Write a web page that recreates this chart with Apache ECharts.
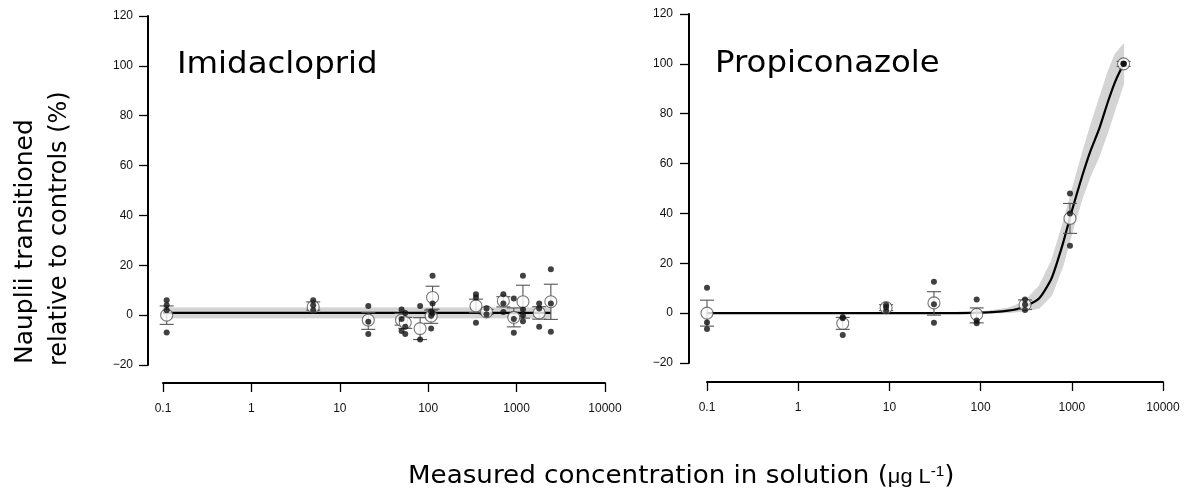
<!DOCTYPE html>
<html><head><meta charset="utf-8">
<script src="https://cdn.jsdelivr.net/npm/echarts@6/dist/echarts.min.js"></script>
<style>html,body{margin:0;padding:0;background:#fff}#c{width:1187px;height:495px}</style>
</head><body><div id="c"></div>
<script>
// ---------- tick labels ----------
const xTicks = [0.1, 1, 10, 100, 1000, 10000];
const xTickLabels = ['0.1', '1', '10', '100', '1000', '10000'];
const yTicks = [-20, 0, 20, 40, 60, 80, 100, 120];

// ---------- Imidacloprid (left) ----------
const imiConc = [0.11, 5.0, 21, 50, 55, 81, 112, 108, 347, 457, 708, 930, 1180, 1800, 2440];
const imiMean = [0, 3.3, -2, -2, -3, -5.4, 7.1, -0.4, 3.7, 1.3, 5.7, -0.9, 5.4, 0.9, 5.4];
const imiErrLow = [-3.7, 2, -5.7, -4, -5.3, -9.8, 2.4, -3.3, 1, 0.3, 3.3, -4.7, -1.2, -1.6, -1.7];
const imiErrHigh = [3.7, 5.3, 1, 0.7, -0.9, -1, 11.6, 2, 6.4, 2.3, 7.4, 2.9, 12, 3.4, 12.4];
const imiReps = [[6, 4, 2, -7], [6, 4, 2], [3.7, -2.7, -7.6], [2.3, -1.5, -6.4], [0.9, -4.7, -7.6],
  [3.7, -9.8], [15.8, 4.7, 0.8], [1.5, -0.2, -5.4], [8.4, 7.1, -3.1], [2.7, 0.3], [8.4, 4.7, 1.3],
  [6.7, -1.5, -7.1], [15.8, 2.3, 0, -2.4], [4.7, 2.7, -4.7], [18.4, 4.7, -6.7]];
const imiFitConc = [0.1, 2440];
const imiFitVal = [0.9, 0.9];
const imiBandLow = [-1.1, -1.1];
const imiBandHigh = [2.9, 2.9];

// ---------- Propiconazole (right) ----------
const proConc = [0.1, 3.08, 9.2, 30.8, 90.6, 307, 955, 3700];
const proMean = [0, -4.1, 2.2, 4.1, -0.5, 3.4, 38, 100];
const proErrLow = [-5.2, -6.5, 1, -0.8, -3.9, 1.5, 32, 99];
const proErrHigh = [5.2, -1.7, 3.4, 8.6, 2.1, 5.3, 44, 101];
const proReps = [[10.2, -3.8, -6.4], [-1.5, -2, -8.8], [3.3, 2.4, 0.9], [12.6, 3.6, -3.9],
  [5.5, -3, -4.1], [5.5, 3.5, 1.3], [48, 40, 27], [100, 100, 100]];
const proFitConc = [0.1, 30, 100, 200, 300, 440, 600, 800, 1000, 1300, 1600, 2000, 2500, 3000, 3700];
const proFitVal = [0, 0, 0.2, 1, 2.5, 6, 14, 28, 41, 55, 65, 74, 85, 93, 100];
const proBandLow = [0, 0, 0, 0.2, 0.8, 2, 7, 19, 32, 46, 55, 63, 73, 82, 92];
const proBandHigh = [0, 0, 0.4, 2, 4.5, 11, 21, 36, 49, 64, 75, 86, 97, 104, 108];

// ---------- helpers ----------
function pairs(xs, ys) { return xs.map((x, i) => [x, ys[i]]); }
function repPairs(conc, reps) { const out = []; conc.forEach((c, i) => reps[i].forEach(v => out.push([c, v]))); return out; }
function bandSeries(idx, conc, lo, hi) {
  return {
    type: 'custom', xAxisIndex: idx, yAxisIndex: idx, z: 1, silent: true,
    data: [[conc[0], lo[0]]],
    renderItem: function (params, api) {
      const pts = [];
      for (let i = 0; i < conc.length; i++) pts.push(api.coord([conc[i], hi[i]]));
      for (let i = conc.length - 1; i >= 0; i--) pts.push(api.coord([conc[i], lo[i]]));
      return { type: 'polygon', shape: { points: pts }, style: { fill: '#d4d4d4', stroke: '#d4d4d4', lineWidth: 1 } };
    }
  };
}
function errSeries(idx, conc, lo, hi) {
  return {
    type: 'custom', xAxisIndex: idx, yAxisIndex: idx, z: 3, silent: true,
    data: conc.map((c, i) => [c, lo[i], hi[i]]),
    encode: { x: 0, y: [1, 2] },
    renderItem: function (params, api) {
      const x = api.value(0);
      const p1 = api.coord([x, api.value(1)]), p2 = api.coord([x, api.value(2)]);
      const w = 7, st = { stroke: '#555', lineWidth: 1.1 };
      return { type: 'group', children: [
        { type: 'line', shape: { x1: p1[0], y1: p1[1], x2: p2[0], y2: p2[1] }, style: st },
        { type: 'line', shape: { x1: p1[0] - w, y1: p1[1], x2: p1[0] + w, y2: p1[1] }, style: st },
        { type: 'line', shape: { x1: p2[0] - w, y1: p2[1], x2: p2[0] + w, y2: p2[1] }, style: st }
      ] };
    }
  };
}
function fitSeries(idx, conc, vals, smooth) {
  return { type: 'line', xAxisIndex: idx, yAxisIndex: idx, z: 2, silent: true, clip: false,
    data: pairs(conc, vals), symbol: 'none', smooth: smooth,
    lineStyle: { color: '#000', width: 2.2 } };
}
function meanSeries(idx, conc, mean) {
  return { type: 'scatter', xAxisIndex: idx, yAxisIndex: idx, z: 4, silent: true, clip: false,
    data: pairs(conc, mean), symbol: 'circle', symbolSize: 12,
    itemStyle: { color: '#fff', borderColor: '#555', borderWidth: 1.1 } };
}
function repSeries(idx, conc, reps) {
  return { type: 'scatter', xAxisIndex: idx, yAxisIndex: idx, z: 5, silent: true, clip: false,
    data: repPairs(conc, reps), symbol: 'circle', symbolSize: 6,
    itemStyle: { color: '#111' } };
}
function xAxisDef(idx, off) {
  return {
    type: 'log', logBase: 10, gridIndex: idx, min: xTicks[0], max: xTicks[xTicks.length - 1], offset: off,
    axisLine: { show: true, onZero: false, lineStyle: { color: '#000', width: 2 } },
    axisTick: { show: true, length: 9, lineStyle: { color: '#000', width: 1.3 } },
    axisLabel: { margin: 20, fontFamily: 'Liberation Sans', fontSize: 12, color: '#111',
      formatter: v => { let best = 0; xTicks.forEach((t, i) => { if (Math.abs(Math.log10(t) - Math.log10(v)) < 0.01) best = i; }); return xTickLabels[best]; } },
    splitLine: { show: false }, minorTick: { show: false }
  };
}
function yAxisDef(idx, off, margin) {
  return {
    type: 'value', gridIndex: idx, min: yTicks[0], max: yTicks[yTicks.length - 1], interval: 20, offset: off,
    axisLine: { show: true, onZero: false, lineStyle: { color: '#000', width: 2 } },
    axisTick: { show: true, length: 9, lineStyle: { color: '#000', width: 1.3 } },
    axisLabel: { margin: margin, fontFamily: 'Liberation Sans', fontSize: 12, color: '#111',
      formatter: v => v < 0 ? '\u2212' + (-v) : String(v) },
    splitLine: { show: false }
  };
}

const chart = echarts.init(document.getElementById('c'), null, { renderer: 'canvas' });
chart.setOption({
  backgroundColor: '#fff',
  animation: false,
  grid: [
    { left: 163, top: 16, width: 442, height: 349 },
    { left: 707, top: 14, width: 456, height: 349 }
  ],
  xAxis: [xAxisDef(0, 18), xAxisDef(1, 19)],
  yAxis: [yAxisDef(0, 15, 15), yAxisDef(1, 18, 16)],
  graphic: [
    { type: 'text', x: 177, y: 50, scaleX: 1.08,
      style: { text: 'Imidacloprid', font: '30px "DejaVu Sans"', fill: '#000', align: 'left', verticalAlign: 'top' } },
    { type: 'text', x: 715, y: 49, scaleX: 1.08,
      style: { text: 'Propiconazole', font: '30px "DejaVu Sans"', fill: '#000', align: 'left', verticalAlign: 'top' } },
    { type: 'text', x: 25, y: 364, rotation: Math.PI / 2,
      style: { text: 'Nauplii transitioned', font: '25px "DejaVu Sans"', fill: '#000', align: 'left', verticalAlign: 'middle' } },
    { type: 'text', x: 60, y: 366, rotation: Math.PI / 2,
      style: { text: 'relative to controls (%)', font: '24px "DejaVu Sans"', fill: '#000', align: 'left', verticalAlign: 'middle' } },
    { type: 'text', x: 408, y: 489, scaleX: 1.09,
      style: { text: '{a|Measured concentration in solution (}{b|μg L}{c|-1}{a|)}', align: 'left', verticalAlign: 'bottom',
        rich: {
          a: { fontFamily: 'DejaVu Sans', fontSize: 24, fill: '#000' },
          b: { fontFamily: 'Liberation Sans', fontSize: 20, fill: '#000' },
          c: { fontFamily: 'Liberation Sans', fontSize: 14, fill: '#000', padding: [0, 0, 10, 0] }
        } } }
  ],
  series: [
    bandSeries(0, imiFitConc, imiBandLow, imiBandHigh),
    fitSeries(0, imiFitConc, imiFitVal, false),
    errSeries(0, imiConc, imiErrLow, imiErrHigh),
    meanSeries(0, imiConc, imiMean),
    repSeries(0, imiConc, imiReps),
    bandSeries(1, proFitConc, proBandLow, proBandHigh),
    fitSeries(1, proFitConc, proFitVal, 0.2),
    errSeries(1, proConc, proErrLow, proErrHigh),
    meanSeries(1, proConc, proMean),
    repSeries(1, proConc, proReps)
  ]
});
</script></body></html>
